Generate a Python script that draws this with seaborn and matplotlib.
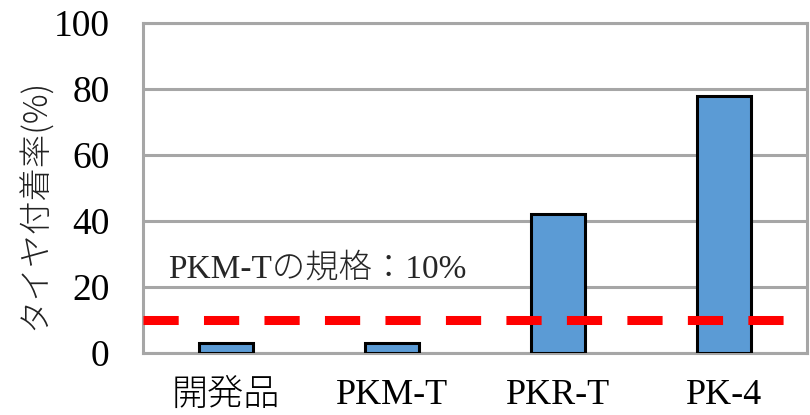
import matplotlib
matplotlib.use("Agg")
import matplotlib.pyplot as plt
import seaborn as sns
import pandas as pd

categories = ["開発品", "PKM-T", "PKR-T", "PK-4"]
adhesion_rate = [3, 3, 42, 78]
spec_limit = 10
y_ticks = [0, 20, 40, 60, 80, 100]
y_label = "タイヤ付着率(%)"
spec_label = "PKM-Tの規格：10%"

sns.set_theme(style="white")
plt.rcParams["font.family"] = ["Liberation Serif", "Noto Sans CJK JP", "DejaVu Sans"]

df = pd.DataFrame({"product": categories, "rate": adhesion_rate})

fig = plt.figure(figsize=(8.1, 4.15), dpi=100)
ax = fig.add_axes([0.1765, 0.1494, 0.8198, 0.7952])

grid_grey = "#a6a6a6"
sns.barplot(data=df, x="product", y="rate", order=categories, color="#5b9bd5",
            edgecolor="black", linewidth=2.2, width=0.33, saturation=1, ax=ax, zorder=3)

ax.set_ylim(0, 100)
ax.set_xlim(-0.5, 3.5)
ax.set_yticks(y_ticks)
ax.yaxis.grid(True, color=grid_grey, linewidth=2.2, zorder=0)
ax.set_axisbelow(True)
for s in ax.spines.values():
    s.set_color(grid_grey)
    s.set_linewidth(2.2)

ax.axhline(spec_limit, xmin=0, xmax=0.975, color="#ff0000", linewidth=6.5,
           dashes=(3.9, 2.8), zorder=4)

ax.text(-0.35, 23, spec_label, fontsize=24, ha="left", va="baseline",
        fontweight="light", family=["Liberation Serif", "Noto Sans CJK JP"])

ax.set_xlabel("")
ax.set_ylabel(y_label, fontsize=24, fontweight="light",
              family=["Noto Sans CJK JP", "DejaVu Sans"], color="#222222")
ax.yaxis.set_label_coords(-0.135, 0.45)
ax.tick_params(axis="y", length=0, pad=24, labelsize=27)
ax.tick_params(axis="x", length=0, pad=19, labelsize=26)
for lbl in ax.get_xticklabels() + ax.get_yticklabels():
    lbl.set_color("black")
    lbl.set_fontweight("light")

fig.savefig("out.png", dpi=100)
